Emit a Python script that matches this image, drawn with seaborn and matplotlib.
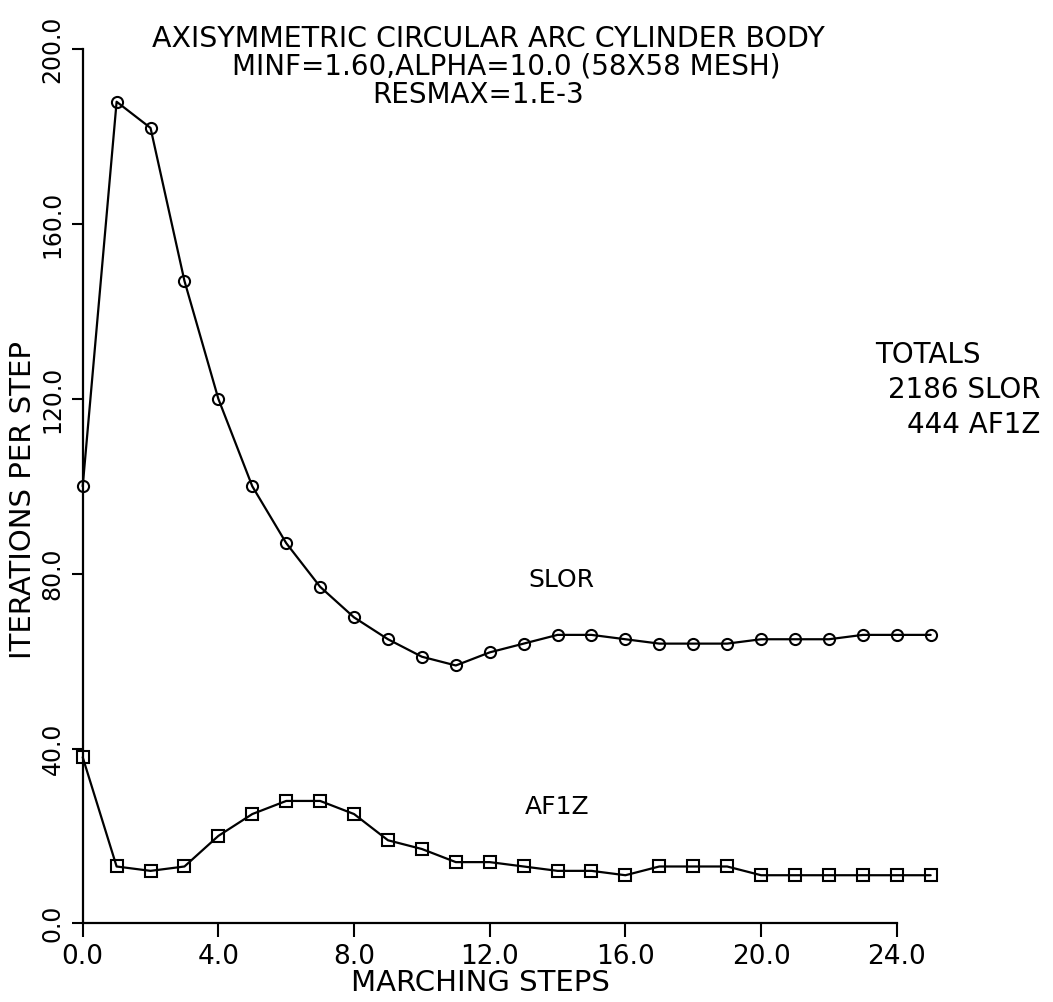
import seaborn as sns
import matplotlib.pyplot as plt
import pandas as pd
import numpy as np

# data
steps = list(range(26))
slor = [100, 188, 182, 147, 120, 100, 87, 77, 70, 65, 61, 59, 62, 64, 66, 66,
        65, 64, 64, 64, 65, 65, 65, 66, 66, 66]
af1z = [38, 13, 12, 13, 20, 25, 28, 28, 25, 19, 17, 14, 14, 13, 12, 12,
        11, 13, 13, 13, 11, 11, 11, 11, 11, 11]
y_ticks = [0, 40, 80, 120, 160, 200]
x_ticks = [0, 4, 8, 12, 16, 20, 24]

df = pd.DataFrame({
    "step": steps * 2,
    "iterations": slor + af1z,
    "method": ["SLOR"] * len(steps) + ["AF1Z"] * len(steps),
})

sns.set_style("ticks")
plt.rcParams["font.family"] = ["DejaVu Sans"]
plt.rcParams["text.color"] = "black"
plt.rcParams["axes.labelcolor"] = "black"

W, H = 1053, 1002
fig = plt.figure(figsize=(W / 100, H / 100), dpi=100)
ax = fig.add_axes([82.7 / W, 1 - 923.3 / H, 881.9 / W, 874.0 / H])

sns.lineplot(data=df, x="step", y="iterations", style="method",
             markers={"SLOR": "o", "AF1Z": "s"}, dashes=False,
             color="black", linewidth=1.6, markersize=8, mfc="none",
             mec="black", mew=1.5, clip_on=False, legend=False, ax=ax)

ax.set_xlim(0, 26)
ax.set_ylim(0, 200)
sns.despine(ax=ax)
ax.spines["bottom"].set_bounds(0, 24)
for s in ("left", "bottom"):
    ax.spines[s].set_linewidth(1.6)
    ax.spines[s].set_color("black")

ax.set_xticks(x_ticks)
ax.set_xticklabels([f"{v:.1f}" for v in x_ticks], fontsize=19)
ax.set_yticks(y_ticks)
ax.set_yticklabels([f"{v:.1f}" for v in y_ticks], fontsize=17,
                   rotation=90, va="center")
ax.tick_params(axis="x", length=10, width=1.5, pad=5, colors="black")
ax.tick_params(axis="y", length=8, width=1.5, pad=5, colors="black")

ax.set_xlabel("")
ax.set_ylabel("ITERATIONS PER STEP", fontsize=21)
ax.yaxis.set_label_coords(-0.052, 0.484)


def ftext(px, py, s, size=20, **kw):
    kw.setdefault("va", "center")
    fig.text(px / W, 1 - py / H, s, fontsize=size, **kw)


# x axis label
ftext(480, 991, "MARCHING STEPS", size=21, ha="center", va="baseline")

# title lines
ftext(152, 39, "AXISYMMETRIC CIRCULAR ARC CYLINDER BODY", size=20.5)
ftext(232, 67, "MINF=1.60,ALPHA=10.0 (58X58 MESH)")
ftext(372, 95, "RESMAX=1.E-3")

# totals
ftext(875, 355, "TOTALS")
ftext(1040, 390, "2186 SLOR", ha="right")
ftext(1040, 425, "444 AF1Z", ha="right")

# curve labels
ax.text(14.1, 78.6, "SLOR", fontsize=18, ha="center", va="center")
ax.text(14.0, 26.6, "AF1Z", fontsize=18, ha="center", va="center")

fig.savefig("out.png", dpi=100)
